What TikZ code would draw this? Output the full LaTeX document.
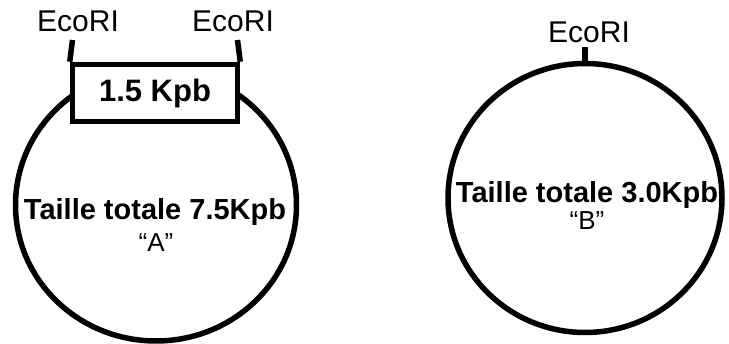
\documentclass[tikz,border=0pt]{standalone}
\usepackage{fontspec}
\setmainfont{Liberation Sans}
\usetikzlibrary{shapes.geometric}
\begin{document}
\begin{tikzpicture}[x=1pt,y=-1pt,
  heavy/.style={line width=5.5pt},
  plasmid/.style={ellipse,draw,heavy,inner sep=0pt},
  insert/.style={rectangle,draw,heavy,fill=white,inner sep=0pt,
    minimum width=165pt,minimum height=57pt,
    font=\fontsize{31}{33}\selectfont\bfseries},
  site/.style={anchor=base,inner sep=0pt,font=\fontsize{30}{32}\selectfont},
  sizelabel/.style={anchor=base,inner sep=0pt,font=\fontsize{29}{31}\selectfont\bfseries},
  namelabel/.style={anchor=base,inner sep=0pt,font=\fontsize{26}{28}\selectfont},
  tick/.style={heavy}]
\useasboundingbox (0,0) rectangle (729,344);

% plasmid A with its 1.5 Kpb EcoRI fragment
\node[plasmid,minimum width=281pt,minimum height=272pt] (A) at (156,205) {};
\node[insert] (box) at (155,93) {1.5 Kpb};
\coordinate (tA1) at (72.5,40);
\coordinate (tA2) at (237.5,40);
\draw[tick] (box.north west) -- (tA1);
\draw[tick] (box.north east) -- (tA2);
\node[site] (eA1) at (78,32) {EcoRI};
\node[site] (eA2) at (233,32) {EcoRI};
\node[sizelabel] (sA) at (155,220) {Taille totale 7.5Kpb};
\node[namelabel] (nA) at (156,252) {“A”};

% plasmid B with a single EcoRI site
\node[plasmid,minimum width=274pt,minimum height=269pt] (B) at (585,198) {};
\coordinate (tB) at (585,47);
\draw[tick] (B.north) -- (tB);
\node[site] (eB) at (589,43) {EcoRI};
\node[sizelabel] (sB) at (587,203) {Taille totale 3.0Kpb};
\node[namelabel] (nB) at (587,230) {“B”};
\end{tikzpicture}
\end{document}
